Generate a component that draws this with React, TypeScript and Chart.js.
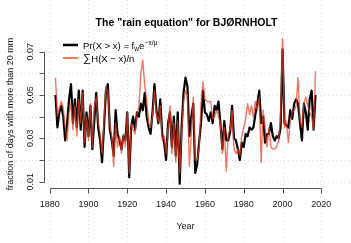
import React, { useEffect, useRef } from "react";
import { Chart, registerables } from "chart.js";

Chart.register(...registerables);

const FIRST_YEAR = 1883;
const X_TICKS = [1880, 1900, 1920, 1940, 1960, 1980, 2000, 2020];
const Y_TICKS = [0.01, 0.02, 0.03, 0.04, 0.05, 0.06, 0.07];
const Y_TICK_LABELS = ["0.01", "", "0.03", "", "0.05", "", "0.07"];
const TITLE = 'The "rain equation" for BJØRNHOLT';
const X_LABEL = "Year";
const Y_LABEL = "fraction of days with more than 20 mm";

// Pr(X > x) = f_w exp(-x/mu)  (black)
const MODEL = [
  0.050, 0.035, 0.042, 0.045, 0.040, 0.029, 0.037, 0.048, 0.055, 0.037,
  0.048, 0.035, 0.052, 0.034, 0.052, 0.026, 0.042, 0.031, 0.045, 0.025,
  0.038, 0.051, 0.035, 0.029, 0.019, 0.035, 0.052, 0.055, 0.034, 0.029,
  0.022, 0.043, 0.032, 0.029, 0.025, 0.031, 0.029, 0.042, 0.012, 0.035,
  0.040, 0.034, 0.042, 0.040, 0.046, 0.043, 0.051, 0.040, 0.035, 0.032,
  0.042, 0.055, 0.043, 0.037, 0.048, 0.032, 0.028, 0.020, 0.037, 0.042,
  0.026, 0.040, 0.022, 0.042, 0.009, 0.035, 0.051, 0.058, 0.054, 0.031,
  0.040, 0.046, 0.014, 0.018, 0.028, 0.037, 0.052, 0.042, 0.041, 0.038,
  0.042, 0.037, 0.045, 0.043, 0.047, 0.037, 0.025, 0.038, 0.029, 0.029,
  0.033, 0.045, 0.030, 0.029, 0.025, 0.020, 0.028, 0.026, 0.032, 0.031,
  0.035, 0.034, 0.035, 0.041, 0.046, 0.052, 0.037, 0.040, 0.028, 0.032,
  0.032, 0.037, 0.031, 0.029, 0.031, 0.030, 0.035, 0.071, 0.037, 0.036,
  0.035, 0.043, 0.039, 0.046, 0.048, 0.046, 0.037, 0.029, 0.046, 0.042,
  0.034, 0.048, 0.052, 0.034, 0.050,
];

// sum H(X - x)/n  (red)
const OBSERVED = [
  0.058, 0.040, 0.044, 0.047, 0.044, 0.035, 0.029, 0.042, 0.046, 0.034,
  0.045, 0.031, 0.048, 0.037, 0.051, 0.028, 0.040, 0.029, 0.046, 0.026,
  0.045, 0.049, 0.038, 0.032, 0.023, 0.038, 0.054, 0.051, 0.037, 0.031,
  0.017, 0.037, 0.026, 0.031, 0.023, 0.032, 0.026, 0.042, 0.014, 0.037,
  0.034, 0.032, 0.041, 0.045, 0.060, 0.066, 0.054, 0.048, 0.037, 0.035,
  0.040, 0.052, 0.041, 0.038, 0.045, 0.029, 0.031, 0.023, 0.035, 0.045,
  0.023, 0.037, 0.019, 0.038, 0.014, 0.032, 0.047, 0.052, 0.050, 0.017,
  0.032, 0.049, 0.020, 0.020, 0.025, 0.046, 0.056, 0.048, 0.047, 0.047,
  0.047, 0.039, 0.040, 0.043, 0.040, 0.037, 0.023, 0.035, 0.015, 0.032,
  0.034, 0.043, 0.025, 0.023, 0.025, 0.022, 0.031, 0.035, 0.039, 0.046,
  0.041, 0.045, 0.040, 0.047, 0.043, 0.049, 0.019, 0.043, 0.035, 0.026,
  0.035, 0.026, 0.025, 0.025, 0.026, 0.029, 0.040, 0.076, 0.035, 0.038,
  0.028, 0.038, 0.042, 0.043, 0.045, 0.058, 0.038, 0.035, 0.046, 0.049,
  0.045, 0.042, 0.040, 0.034, 0.061,
];

const RED = "rgba(240, 62, 38, 0.72)";
const FONT = '"Liberation Sans", Arial, Helvetica, sans-serif';

const rPlot = {
  id: "rPlot",
  beforeDatasetsDraw(chart: any) {
    const { ctx, width, height } = chart;
    const x = chart.scales.x;
    const y = chart.scales.y;
    ctx.save();
    ctx.strokeStyle = "#dcdcdc";
    ctx.lineWidth = 1;
    ctx.setLineDash([1, 3]);
    for (const t of X_TICKS) {
      const px = Math.round(x.getPixelForValue(t)) + 0.5;
      ctx.beginPath();
      ctx.moveTo(px, 0);
      ctx.lineTo(px, height);
      ctx.stroke();
    }
    for (const t of Y_TICKS) {
      const py = Math.round(y.getPixelForValue(t)) + 0.5;
      ctx.beginPath();
      ctx.moveTo(0, py);
      ctx.lineTo(width, py);
      ctx.stroke();
    }
    ctx.restore();
  },
  afterDraw(chart: any) {
    const { ctx, chartArea } = chart;
    const x = chart.scales.x;
    const y = chart.scales.y;
    ctx.save();
    ctx.setLineDash([]);
    ctx.strokeStyle = "#555";
    ctx.lineWidth = 1;

    // x axis
    const ax = Math.round(chartArea.bottom) + 0.5;
    ctx.beginPath();
    ctx.moveTo(Math.round(x.getPixelForValue(X_TICKS[0])) + 0.5, ax);
    ctx.lineTo(Math.round(x.getPixelForValue(X_TICKS[X_TICKS.length - 1])) + 0.5, ax);
    for (const t of X_TICKS) {
      const px = Math.round(x.getPixelForValue(t)) + 0.5;
      ctx.moveTo(px, ax);
      ctx.lineTo(px, ax + 5);
    }
    ctx.stroke();

    // y axis
    const ay = Math.round(chartArea.left) - 0.5;
    ctx.beginPath();
    ctx.moveTo(ay, Math.round(y.getPixelForValue(Y_TICKS[0])) + 0.5);
    ctx.lineTo(ay, Math.round(y.getPixelForValue(Y_TICKS[Y_TICKS.length - 1])) + 0.5);
    for (const t of Y_TICKS) {
      const py = Math.round(y.getPixelForValue(t)) + 0.5;
      ctx.moveTo(ay, py);
      ctx.lineTo(ay - 5, py);
    }
    ctx.stroke();

    ctx.fillStyle = "#1a1a1a";
    ctx.font = `9px ${FONT}`;
    ctx.textAlign = "center";
    ctx.textBaseline = "middle";
    for (const t of X_TICKS) {
      ctx.fillText(String(t), x.getPixelForValue(t), ax + 16);
    }
    Y_TICKS.forEach((t, i) => {
      if (!Y_TICK_LABELS[i]) return;
      ctx.save();
      ctx.translate(ay - 14, y.getPixelForValue(t));
      ctx.rotate(-Math.PI / 2);
      ctx.fillText(Y_TICK_LABELS[i], 0, 0);
      ctx.restore();
    });

    const cx = (chartArea.left + chartArea.right) / 2;
    ctx.fillText(X_LABEL, cx, ax + 38);
    ctx.save();
    ctx.translate(11, 114);
    ctx.rotate(-Math.PI / 2);
    ctx.fillText(Y_LABEL, 0, 0);
    ctx.restore();

    // title
    ctx.fillStyle = "#000";
    ctx.font = `bold 10.5px ${FONT}`;
    ctx.fillText(TITLE, cx + 1, 23);

    // legend
    const lx = 63;
    const ly1 = 45;
    const ly2 = 58;
    ctx.lineCap = "butt";
    ctx.strokeStyle = "#000";
    ctx.lineWidth = 2.5;
    ctx.beginPath();
    ctx.moveTo(lx, ly1);
    ctx.lineTo(lx + 15, ly1);
    ctx.stroke();
    ctx.strokeStyle = RED;
    ctx.lineWidth = 2;
    ctx.beginPath();
    ctx.moveTo(lx, ly2);
    ctx.lineTo(lx + 15, ly2);
    ctx.stroke();

    ctx.fillStyle = "#000";
    ctx.textAlign = "left";
    ctx.textBaseline = "alphabetic";
    let tx = 83;
    const base1 = ly1 + 3.5;
    ctx.font = `9.5px ${FONT}`;
    const s1 = "Pr(X > x) = f";
    ctx.fillText(s1, tx, base1);
    tx += ctx.measureText(s1).width;
    ctx.font = `6.5px ${FONT}`;
    ctx.fillText("w", tx, base1 + 2);
    tx += ctx.measureText("w").width;
    ctx.font = `9.5px ${FONT}`;
    ctx.fillText("e", tx, base1);
    tx += ctx.measureText("e").width;
    ctx.font = `6.5px ${FONT}`;
    ctx.fillText("\u2212x/\u03bc", tx + 0.5, base1 - 4);

    tx = 83;
    const base2 = ly2 + 3.5;
    ctx.font = `11px ${FONT}`;
    ctx.fillText("\u2211", tx, base2 + 0.5);
    tx += ctx.measureText("\u2211").width + 0.5;
    ctx.font = `9.5px ${FONT}`;
    ctx.fillText("H(X \u2212 x)/n", tx, base2);
    ctx.restore();
  },
};

export default function App() {
  const ref = useRef<HTMLCanvasElement | null>(null);

  useEffect(() => {
    if (!ref.current) return;
    const years = MODEL.map((_, i) => FIRST_YEAR + i);
    const chart = new Chart(ref.current, {
      type: "line",
      data: {
        datasets: [
          {
            label: "sum H(X-x)/n",
            data: OBSERVED.map((v, i) => ({ x: years[i], y: v })),
            borderColor: RED,
            borderWidth: 1.4,
            pointRadius: 0,
            tension: 0,
            borderJoinStyle: "round",
            order: 0,
          },
          {
            label: "Pr(X>x)",
            data: MODEL.map((v, i) => ({ x: years[i], y: v })),
            borderColor: "#000",
            borderWidth: 2.2,
            pointRadius: 0,
            tension: 0,
            borderJoinStyle: "round",
            order: 1,
          },
        ],
      },
      options: {
        responsive: false,
        animation: false,
        events: [],
        layout: { padding: { left: 45, right: 25, top: 33, bottom: 55.5 } },
        plugins: { legend: { display: false }, title: { display: false }, tooltip: { enabled: false } },
        scales: {
          x: { type: "linear", min: 1877.6, max: 2022.4, display: false },
          y: { type: "linear", min: 0.0073, max: 0.0786, display: false },
        },
      },
      plugins: [rPlot],
    });
    return () => chart.destroy();
  }, []);

  return (
    <div style={{ position: "absolute", left: 0, top: 0, width: 351, height: 243, background: "#fff" }}>
      <canvas ref={ref} width={351} height={243} style={{ display: "block", width: 351, height: 243 }} />
    </div>
  );
}
